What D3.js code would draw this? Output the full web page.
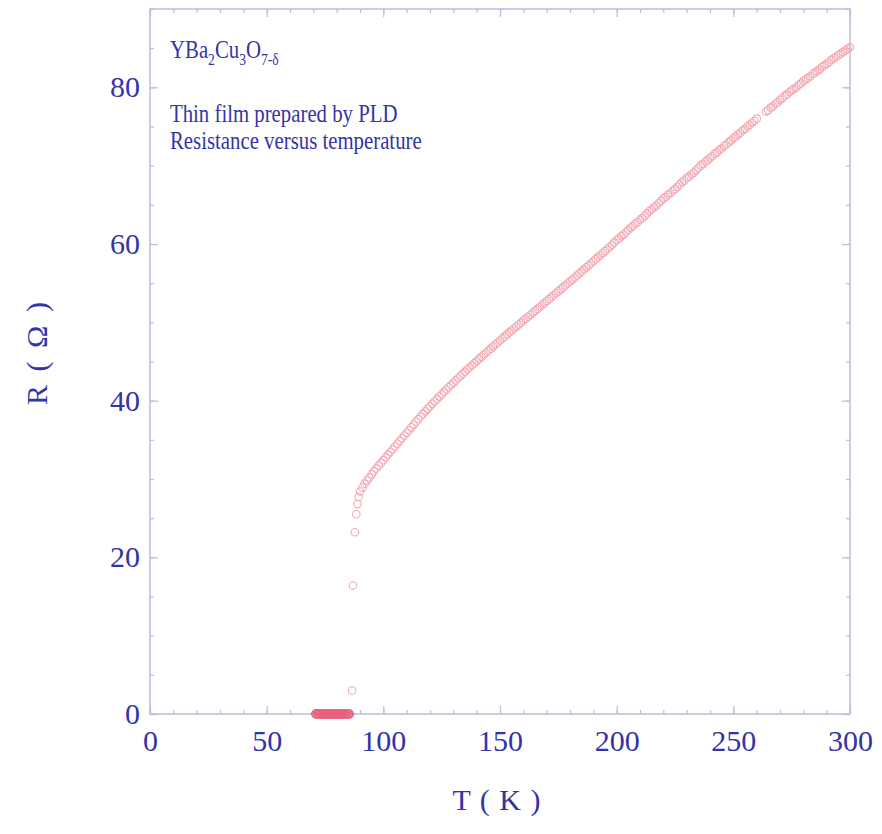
<!DOCTYPE html>
<html><head><meta charset="utf-8">
<script src="https://cdn.jsdelivr.net/npm/d3@7"></script>
<style>
html,body{margin:0;padding:0;background:#fff;}
svg{display:block;}
text{font-family:"Liberation Serif","Times New Roman",serif;fill:#3434a6;}
</style></head>
<body>
<script>
// ---- data ----
const xTicks = [0, 50, 100, 150, 200, 250, 300];
const yTicks = [0, 20, 40, 60, 80];
// superconducting (R = 0) points, T in K
const zeroT = [71,71.5,72,72.5,73,73.5,74,74.5,75,75.5,76,76.5,77,77.5,78,78.5,79,79.5,80,80.5,81,81.5,82,82.5,83,83.5,84,84.5,85,85.5];
// transition points [T, R]
const transition = [[86.6,3.0],[87.0,16.4],[87.8,23.2],[88.4,25.5],[88.9,26.8],[89.4,27.7]];
// normal state [T, R]
const normalLow = [[90,28.4],[91,28.9],[92,29.4],[93,29.8],[94,30.2],[95,30.6],[96,31.0],[97,31.35],[98,31.7],[99,32.05],
 [100,32.4],[101,32.75],[102,33.1],[103,33.45],[104,33.8],[105,34.15],[106,34.5],[107,34.85],[108,35.2],[109,35.55],
 [110,35.9],[111,36.25],[112,36.6],[113,36.95],[114,37.3],[115,37.64],[116,37.98],[117,38.31],[118,38.64],[119,38.96],
 [120,39.28],[121,39.6],[122,39.91],[123,40.22],[124,40.52],[125,40.82],[126,41.12],[127,41.42],[128,41.71],[129,42.0],
 [130,42.29],[131,42.58],[132,42.86],[133,43.14],[134,43.42],[135,43.7],[136,43.98],[137,44.25],[138,44.52],[139,44.79]];
const normalMid = [[140,45.06],[141,45.33],[142,45.6],[143,45.86],[144,46.12],[145,46.38],[146,46.64],[147,46.9],[148,47.16],[149,47.42],
 [150,47.68],[151,47.94],[152,48.2],[153,48.46],[154,48.71],[155,48.96],[156,49.21],[157,49.46],[158,49.71],[159,49.96],
 [160,50.21],[161,50.46],[162,50.71],[163,50.96],[164,51.21],[165,51.46],[166,51.71],[167,51.96],[168,52.21],[169,52.46],
 [170,52.71],[171,52.96],[172,53.21],[173,53.46],[174,53.71],[175,53.96],[176,54.21],[177,54.46],[178,54.71],[179,54.96],
 [180,55.21],[181,55.46],[182,55.72],[183,55.98],[184,56.24],[185,56.5],[186,56.76],[187,57.02],[188,57.28],[189,57.54],
 [190,57.8],[191,58.06],[192,58.32],[193,58.58],[194,58.84],[195,59.1],[196,59.36],[197,59.62],[198,59.9],[199,60.2]];
const normalHigh = [[200,60.5],[201,60.7],[202,61.0],[203,61.2],[204,61.5],[205,61.8],[206,62.1],[207,62.3],[208,62.6],[209,62.8],
 [210,63.1],[211,63.3],[212,63.6],[213,63.9],[214,64.2],[215,64.4],[216,64.7],[217,64.9],[218,65.2],[219,65.5],
 [220,65.8],[221,66.0],[222,66.3],[223,66.5],[224,66.8],[225,67.0],[226,67.3],[227,67.6],[228,67.9],[229,68.1],
 [230,68.4],[231,68.6],[232,68.9],[233,69.1],[234,69.4],[235,69.7],[236,70.0],[237,70.2],[238,70.5],[239,70.7],
 [240,71.0],[241,71.2],[242,71.5],[243,71.7],[244,72.0],[245,72.2],[246,72.5],[247,72.7],[248,73.0],[249,73.2],
 [250,73.5],[251,73.7],[252,74.0],[253,74.2],[254,74.5],[255,74.7],[256,75.0],[257,75.2],[258,75.5],[259,75.7],
 [260,76.0],[264,76.9],[265,77.1],[266,77.4],[267,77.6],[268,77.9],[269,78.1],
 [270,78.4],[271,78.6],[272,78.9],[273,79.1],[274,79.4],[275,79.6],[276,79.8],[277,80.0],[278,80.3],[279,80.5],
 [280,80.8],[281,81.0],[282,81.2],[283,81.4],[284,81.7],[285,81.9],[286,82.1],[287,82.3],[288,82.6],[289,82.8],
 [290,83.0],[291,83.2],[292,83.5],[293,83.7],[294,83.9],[295,84.1],[296,84.3],[297,84.5],[298,84.7],[299,84.9],[300,85.1]];
const xDomain = [0, 300];
const yDomain = [0, 90];
const annotation2 = "Thin film prepared by PLD";
const annotation3 = "Resistance versus temperature";

// ---- drawing ----
const W = 882, H = 834;
const L = 150, R = 850, T = 9, B = 714;
const svg = d3.select("body").append("svg").attr("width", W).attr("height", H);
const x = d3.scaleLinear().domain(xDomain).range([L, R]);
const y = d3.scaleLinear().domain(yDomain).range([B, T]);
const axisColor = "#bcbcdc";

const xMinor = d3.range(0, 301, 10);
const yMinor = d3.range(0, 91, 5);

function styleAxis(g){
  g.select(".domain").remove();
  g.selectAll(".tick line").attr("stroke", axisColor).attr("stroke-width", 1.2);
}
svg.append("rect").attr("x", L).attr("y", T).attr("width", R-L).attr("height", B-T)
  .attr("fill", "none").attr("stroke", axisColor).attr("stroke-width", 1.5);

svg.append("g").attr("transform", `translate(0,${B})`).call(d3.axisBottom(x).tickValues(xMinor).tickSize(-4).tickFormat("")).call(styleAxis);
svg.append("g").attr("transform", `translate(0,${T})`).call(d3.axisTop(x).tickValues(xMinor).tickSize(-4).tickFormat("")).call(styleAxis);
svg.append("g").attr("transform", `translate(${L},0)`).call(d3.axisLeft(y).tickValues(yMinor).tickSize(-4).tickFormat("")).call(styleAxis);
svg.append("g").attr("transform", `translate(${R},0)`).call(d3.axisRight(y).tickValues(yMinor).tickSize(-4).tickFormat("")).call(styleAxis);
const gx = svg.append("g").attr("transform", `translate(0,${B})`).call(d3.axisBottom(x).tickValues(xTicks).tickSize(-8).tickPadding(16).tickFormat(d3.format("d"))).call(styleAxis);
svg.append("g").attr("transform", `translate(0,${T})`).call(d3.axisTop(x).tickValues(xTicks).tickSize(-8).tickFormat("")).call(styleAxis);
const gy = svg.append("g").attr("transform", `translate(${L},0)`).call(d3.axisLeft(y).tickValues(yTicks).tickSize(-8).tickPadding(10).tickFormat(d3.format("d"))).call(styleAxis);
svg.append("g").attr("transform", `translate(${R},0)`).call(d3.axisRight(y).tickValues(yTicks).tickSize(-8).tickFormat("")).call(styleAxis);
[gx, gy].forEach(g => g.selectAll(".tick text").style("font-family", '"Liberation Serif",serif').attr("font-size", 30).attr("fill", "#3434a6"));

const pts = svg.append("g");
pts.selectAll("circle.z").data(zeroT).join("circle").attr("class", "z")
  .attr("cx", d => x(d)).attr("cy", y(0)).attr("r", 4)
  .attr("fill", "none").attr("stroke", "#e8607c").attr("stroke-width", 1.3);
const curve = transition.concat(normalLow, normalMid, normalHigh);
pts.selectAll("circle.c").data(curve).join("circle").attr("class", "c")
  .attr("cx", d => x(d[0])).attr("cy", d => y(d[1])).attr("r", 3.8)
  .attr("fill", "none").attr("stroke", "#f4a8b3").attr("stroke-width", 1.1);

// annotation (condensed like the reference)
const ann = svg.append("g").attr("transform", "translate(170,0) scale(0.8,1)");
const a1 = ann.append("text").attr("x", 0).attr("y", 58).attr("font-size", 26);
a1.append("tspan").text("YBa");
a1.append("tspan").text("2").attr("font-size", 17).attr("dy", 7);
a1.append("tspan").text("Cu").attr("dy", -7);
a1.append("tspan").text("3").attr("font-size", 17).attr("dy", 7);
a1.append("tspan").text("O").attr("dy", -7);
a1.append("tspan").text("7-δ").attr("font-size", 17).attr("dy", 7);
ann.append("text").attr("x", 0).attr("y", 122).attr("font-size", 26).text(annotation2);
ann.append("text").attr("x", 0).attr("y", 149).attr("font-size", 26).text(annotation3);

svg.append("text").attr("x", 497).attr("y", 810).attr("text-anchor", "middle").attr("font-size", 30).attr("letter-spacing", 1).text("T ( K )");
svg.append("text").attr("transform", "translate(47,352) rotate(-90)").attr("text-anchor", "middle").attr("font-size", 30).attr("letter-spacing", 3).text("R ( Ω )");
</script>
</body></html>
